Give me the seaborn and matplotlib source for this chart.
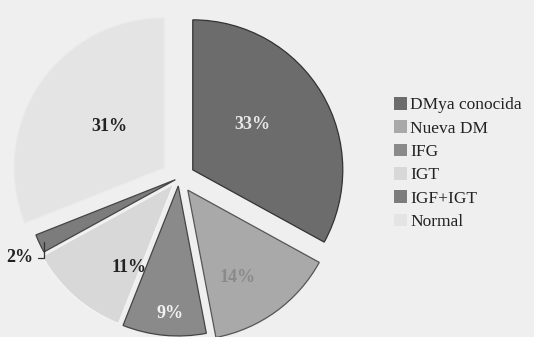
import numpy as np
import matplotlib.pyplot as plt
from matplotlib.patches import Patch
import seaborn as sns

sns.set_theme(style="white")
fuente = ['Liberation Serif', 'DejaVu Serif']
plt.rcParams['font.family'] = 'serif'
plt.rcParams['font.serif'] = fuente

# datos
categorias = ['DMya conocida', 'Nueva DM', 'IFG', 'IGT', 'IGF+IGT', 'Normal']
porcentajes = [33, 14, 9, 11, 2, 31]

colores = ['#6c6c6c', '#a9a9a9', '#8a8a8a', '#d8d8d8', '#7c7c7c', '#e4e4e4']
bordes = ['#333333', '#555555', '#444444', '#f4f4f4', '#444444', '#eaeaea']
separacion = [16, 15, 8, 8, 4, 18]
# posicion de etiquetas (fraccion del radio, angulo desde el vertice)
dist_etiqueta = [0.5, 0.67, 0.85, 0.63, 1.16, 0.46]
ang_etiqueta = [36.9, -60.6, -93.5, -118.5, -153.3, 143]
color_texto = ['#e8e8e8', '#8a8a8a', '#f2f2f2', '#222222', '#222222', '#222222']

fondo = '#efefef'
radio = 150

fig = plt.figure(figsize=(5.34, 3.37), dpi=100, facecolor=fondo)
ax = fig.add_axes([0, 0, 366 / 534, 1])
ax.set_facecolor(fondo)

wedges, _ = ax.pie(porcentajes, radius=radio, startangle=90, counterclock=False,
                   explode=separacion, colors=colores,
                   wedgeprops=dict(linewidth=0.9))
for w, b in zip(wedges, bordes):
    w.set_edgecolor(b)

for w, pct, d, a, c in zip(wedges, porcentajes, dist_etiqueta, ang_etiqueta, color_texto):
    cx, cy = w.center
    ang = np.deg2rad(a)
    x = cx + d * radio * np.cos(ang)
    y = cy + d * radio * np.sin(ang)
    if pct == 2:
        # etiqueta exterior con linea guia
        am = np.deg2rad((w.theta1 + w.theta2) / 2)
        xp = cx + 0.97 * radio * np.cos(am)
        yp = cy + 0.97 * radio * np.sin(am)
        ax.annotate(f'{pct}%', xy=(xp, yp), xytext=(x, y),
                    ha='center', va='center', fontsize=13, fontweight='bold',
                    color=c,
                    arrowprops=dict(arrowstyle='-', color='#333333', lw=0.9,
                                    shrinkA=1, shrinkB=0,
                                    connectionstyle='angle,angleA=0,angleB=90,rad=0'))
    else:
        ax.text(x, y, f'{pct}%', ha='center', va='center', fontsize=13,
                fontweight='bold', color=c)

ax.set_xlim(-179, 187)
ax.set_ylim(-159, 178)
ax.axis('off')

handles = [Patch(facecolor=col, edgecolor='none') for col in colores]
fig.legend(handles, categorias, loc='center left', bbox_to_anchor=(385 / 534, 0.515),
           frameon=False, prop=dict(family='serif', size=12.5), handlelength=0.75,
           handleheight=0.75, handletextpad=0.2, labelspacing=0.4, borderpad=0,
           labelcolor='#222222')

fig.savefig('out.png', dpi=100, facecolor=fondo)
